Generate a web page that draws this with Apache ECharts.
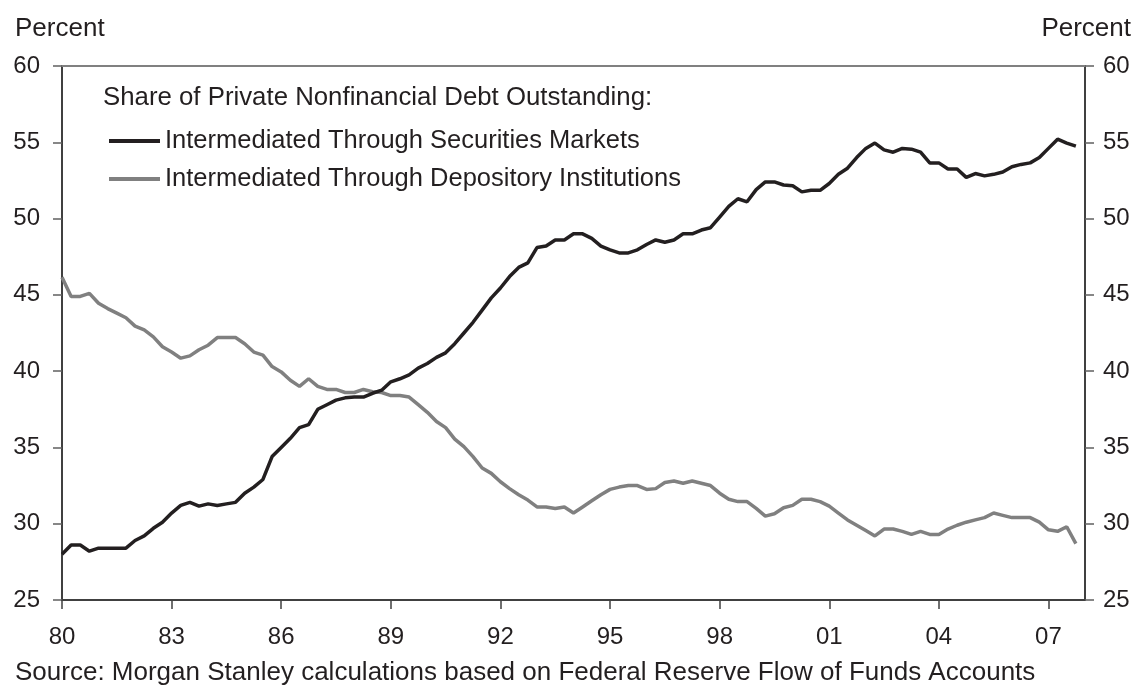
<!DOCTYPE html>
<html><head><meta charset="utf-8">
<script src="https://cdn.jsdelivr.net/npm/echarts@6/dist/echarts.min.js"></script>
<style>html,body{margin:0;padding:0;background:#fff}#c{width:1135px;height:686px}</style>
</head><body><div id="c"></div>
<script>
// Quarterly data, 1980Q1 .. 2007Q4 (percent)
const startYear = 1980;
const seriesNames = ['Intermediated Through Securities Markets', 'Intermediated Through Depository Institutions'];
const securities = [
  28.0, 28.6, 28.6, 28.2,
  28.4, 28.4, 28.4, 28.4,
  28.9, 29.2, 29.7, 30.1,
  30.7, 31.2, 31.4, 31.15,
  31.3, 31.2, 31.3, 31.4,
  32.0, 32.4, 32.9, 34.4,
  35.0, 35.6, 36.3, 36.5,
  37.5, 37.8, 38.1, 38.25,
  38.3, 38.3, 38.55, 38.75,
  39.3, 39.5, 39.75, 40.2,
  40.5, 40.9, 41.2, 41.8,
  42.5, 43.2, 44.0, 44.8,
  45.45, 46.2, 46.8, 47.1,
  48.1, 48.2, 48.6, 48.6,
  49.0, 49.0, 48.7, 48.2,
  47.95, 47.75, 47.75, 47.95,
  48.3, 48.6, 48.45, 48.6,
  49.0, 49.0, 49.25, 49.4,
  50.1, 50.8, 51.3, 51.1,
  51.9, 52.4, 52.4, 52.2,
  52.15, 51.75, 51.85, 51.85,
  52.3, 52.9, 53.3, 54.0,
  54.6, 54.95, 54.5, 54.35,
  54.6, 54.55, 54.35, 53.65,
  53.65, 53.25, 53.25, 52.7,
  52.95, 52.8, 52.9, 53.05,
  53.4, 53.55, 53.65, 54.0,
  54.6, 55.2, 54.95, 54.75
];
const depository = [
  46.15, 44.9, 44.9, 45.1,
  44.45, 44.1, 43.8, 43.5,
  42.95, 42.7, 42.25, 41.6,
  41.25, 40.85, 41.0, 41.4,
  41.7, 42.2, 42.2, 42.2,
  41.8, 41.25, 41.05, 40.3,
  39.95, 39.4, 39.0, 39.5,
  39.0, 38.8, 38.8, 38.6,
  38.6, 38.8, 38.65, 38.6,
  38.4, 38.4, 38.3, 37.8,
  37.3, 36.7, 36.3, 35.55,
  35.05, 34.4, 33.65, 33.3,
  32.75, 32.3, 31.9, 31.55,
  31.1, 31.1, 31.0, 31.1,
  30.7, 31.1, 31.5, 31.9,
  32.25, 32.4, 32.5, 32.5,
  32.25, 32.3, 32.7, 32.8,
  32.65, 32.8, 32.65, 32.5,
  32.0, 31.6, 31.45, 31.45,
  31.0, 30.5, 30.65, 31.05,
  31.2, 31.6, 31.6, 31.45,
  31.15, 30.7, 30.25, 29.9,
  29.55, 29.2, 29.65, 29.65,
  29.5, 29.3, 29.5, 29.3,
  29.3, 29.65, 29.9, 30.1,
  30.25, 30.4, 30.7, 30.55,
  30.4, 30.4, 30.4, 30.1,
  29.6, 29.5, 29.8, 28.7
];
const xTickValues = [1980, 1983, 1986, 1989, 1992, 1995, 1998, 2001, 2004, 2007];
const xMin = 1980, xMax = 2008;
const yMin = 25, yMax = 60, yStep = 5;

const FONT = "'Liberation Sans', Arial, Helvetica, sans-serif";
const TXT = '#231f20';
const toPts = arr => arr.map((v, i) => [startYear + i / 4, v]);
const yearLabel = v => String(Math.round(v) % 100).padStart(2, '0');

const yAxisCommon = {
  type: 'value', min: yMin, max: yMax, interval: yStep,
  axisLine: { show: true, lineStyle: { color: '#404040', width: 2 } },
  axisTick: { show: true, length: 9, lineStyle: { color: '#606060', width: 1.5 } },
  axisLabel: { fontSize: 24, color: TXT, fontFamily: FONT },
  splitLine: { show: false }
};

const chart = echarts.init(document.getElementById('c'), null, { renderer: 'canvas' });
chart.setOption({
  animation: false,
  backgroundColor: '#ffffff',
  grid: { left: 62, right: 50, top: 66, bottom: 86, containLabel: false },
  xAxis: [{
    type: 'value', min: xMin, max: xMax, interval: 3, position: 'bottom',
    axisLine: { show: true, onZero: false, lineStyle: { color: '#404040', width: 2 } },
    axisTick: { show: true, length: 9, customValues: xTickValues, lineStyle: { color: '#404040', width: 1.5 } },
    axisLabel: { customValues: xTickValues, formatter: yearLabel, fontSize: 24, color: TXT, fontFamily: FONT, margin: 25 },
    splitLine: { show: false }
  }, {
    type: 'value', min: xMin, max: xMax, position: 'top',
    axisLine: { show: true, onZero: false, lineStyle: { color: '#808080', width: 2 } },
    axisTick: { show: false }, axisLabel: { show: false }, splitLine: { show: false }
  }],
  yAxis: [
    Object.assign({}, yAxisCommon, { position: 'left', axisLabel: Object.assign({}, yAxisCommon.axisLabel, { margin: 22 }) }),
    Object.assign({}, yAxisCommon, { position: 'right', axisLabel: Object.assign({}, yAxisCommon.axisLabel, { margin: 18 }) })
  ],
  legend: {
    data: seriesNames, orient: 'vertical', left: 109, top: 128, padding: 0,
    icon: 'rect', itemWidth: 51, itemHeight: 4, itemGap: 12,
    textStyle: { fontSize: 25.5, color: TXT, fontFamily: FONT, padding: [0, 0, 0, 0] },
    selectedMode: false
  },
  graphic: [
    { type: 'text', x: 15, y: 29, style: { text: 'Percent', font: '26px ' + FONT, fill: TXT, align: 'left', verticalAlign: 'middle' } },
    { type: 'text', x: 1131, y: 29, style: { text: 'Percent', font: '26px ' + FONT, fill: TXT, align: 'right', verticalAlign: 'middle' } },
    { type: 'text', x: 103, y: 98, style: { text: 'Share of Private Nonfinancial Debt Outstanding:', font: '25.8px ' + FONT, fill: TXT, align: 'left', verticalAlign: 'middle' } },
    { type: 'text', x: 15, y: 673, style: { text: 'Source: Morgan Stanley calculations based on Federal Reserve Flow of Funds Accounts', font: '26px ' + FONT, fill: TXT, align: 'left', verticalAlign: 'middle' } }
  ],
  series: [
    { name: seriesNames[0], type: 'line', data: toPts(securities), showSymbol: false, symbol: 'none',
      lineStyle: { color: '#231f20', width: 3.5 }, itemStyle: { color: '#231f20' }, z: 3 },
    { name: seriesNames[1], type: 'line', data: toPts(depository), showSymbol: false, symbol: 'none',
      lineStyle: { color: '#808080', width: 3.5 }, itemStyle: { color: '#808080' }, z: 2 }
  ]
});
</script>
</body></html>
